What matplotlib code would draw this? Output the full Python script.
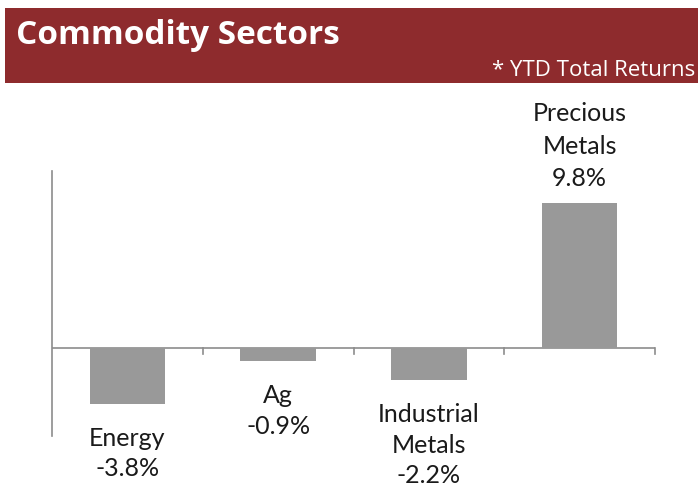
import matplotlib.pyplot as plt
from matplotlib.patches import Rectangle

# Commodity sector YTD total returns (%)
sectors = ['Energy', 'Ag', 'Industrial\nMetals', 'Precious\nMetals']
returns = [-3.8, -0.9, -2.2, 9.8]

plt.rcParams['font.family'] = ['Lato', 'DejaVu Sans']

W, H = 698, 489
fig = plt.figure(figsize=(W / 100, H / 100), dpi=100)

# red banner at the top
fig.patches.append(Rectangle((5 / W, 1 - 84 / H), 1, 75 / H, transform=fig.transFigure,
                             facecolor='#8e2b2d', edgecolor='none', zorder=0))
fig.text(16 / W, 1 - 36 / H, 'Commodity Sectors', color='white', fontsize=24,
         fontweight='bold', va='center', ha='left', family=['Open Sans', 'DejaVu Sans'])
fig.text(695 / W, 1 - 70 / H, '* YTD Total Returns', color='white', fontsize=16,
         va='center', ha='right', family=['Open Sans', 'DejaVu Sans'])

# axes: x from 52 to 655 px, y from 172 (12%) to 437 (-6%)
ax = fig.add_axes([52 / W, 1 - 437 / H, (655 - 52) / W, (437 - 172) / H])
x = range(len(sectors))
ax.bar(x, returns, width=0.5, color='#999999', zorder=2)
ax.set_xlim(-0.5, len(sectors) - 0.5)
ax.set_ylim(-6, 12)

for s in ['top', 'right', 'bottom']:
    ax.spines[s].set_visible(False)
ax.spines['left'].set_color('#8c8c8c')
ax.spines['left'].set_linewidth(1.2)
ax.set_yticks([])
ax.set_xticks([])

# zero line with category ticks
ax.axhline(0, color='#8c8c8c', lw=1.2, zorder=1)
for b in [0.5, 1.5, 2.5, 3.5]:
    ax.plot([b, b], [0, -0.45], color='#8c8c8c', lw=1.2, clip_on=False)

for i, (name, v) in enumerate(zip(sectors, returns)):
    label = f'{name}\n{v:.1f}%'
    if v >= 0:
        ax.annotate(label, (i, v), xytext=(0, 10), textcoords='offset points',
                    ha='center', va='bottom', fontsize=18, color='#1a1a1a',
                    linespacing=1.5, annotation_clip=False)
    else:
        ax.annotate(label, (i, v), xytext=(0, -16), textcoords='offset points',
                    ha='center', va='top', fontsize=18, color='#1a1a1a',
                    linespacing=1.4, annotation_clip=False)

fig.savefig('out.png', dpi=100)
